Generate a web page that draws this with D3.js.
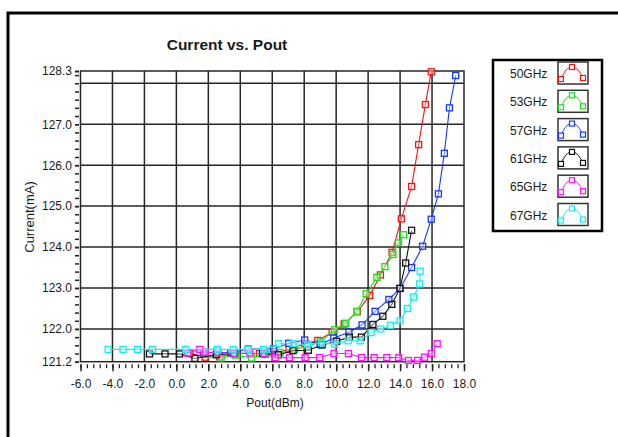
<!DOCTYPE html>
<html>
  <head>
    <meta charset="utf-8" />
    <title>Current vs. Pout</title>
    <script src="https://cdn.jsdelivr.net/npm/d3@7"></script>
    <style>
      body { margin: 0; background: #fff; }
      text { font-family: "Liberation Sans", Arial, sans-serif; fill: #1a1a1a; }
    </style>
  </head>
  <body>
    <div id="chart"></div>
    <script>
      // series names + colours
      var seriesNames = ["50GHz", "53GHz", "57GHz", "61GHz", "65GHz", "67GHz"];
      var seriesColors = ["#ff1010", "#18e018", "#1438ff", "#111111", "#ff10ff", "#10f0f0"];

      // [Pout dBm, Current mA]
      var ghz50 = [[0.85,121.41],[1.8,121.31],[2.7,121.32],[3.6,121.4],[5.2,121.4],[6.15,121.4],[7.05,121.5],[8.05,121.64],[8.85,121.72],[9.75,121.92],[10.5,122.12],[11.33,122.42],[12.1,122.82],[12.77,123.32],[13.5,123.87],[14.08,124.69],[14.72,125.48],[15.16,126.5],[15.58,127.48],[15.95,128.28]];
      var ghz53 = [[1.8,121.38],[2.8,121.29],[3.7,121.36],[4.7,121.29],[5.6,121.38],[6.5,121.42],[7.4,121.5],[8.2,121.58],[9.0,121.68],[9.9,121.98],[10.6,122.14],[11.3,122.43],[11.88,122.86],[12.55,123.26],[13.05,123.52],[13.55,123.82],[13.9,124.1],[14.22,124.3]];
      var ghz57 = [[1.68,121.42],[2.52,121.43],[3.4,121.42],[4.5,121.51],[6.08,121.51],[7.03,121.65],[8.03,121.73],[9.0,121.62],[9.85,121.78],[10.8,121.92],[11.62,122.1],[12.44,122.43],[13.3,122.72],[14.0,122.99],[14.72,123.5],[15.41,124.02],[15.95,124.68],[16.4,125.3],[16.77,126.29],[17.09,127.4],[17.48,128.19]];
      var ghz61 = [[-1.68,121.39],[-0.71,121.39],[0.2,121.39],[1.16,121.28],[2.5,121.37],[3.6,121.4],[5.4,121.4],[6.38,121.37],[7.3,121.47],[8.26,121.48],[9.12,121.61],[10.03,121.7],[10.82,121.8],[11.58,121.8],[12.3,122.11],[12.92,122.31],[13.48,122.6],[13.99,122.99],[14.35,123.61],[14.72,124.41]];
      var ghz65 = [[0.72,121.41],[1.47,121.5],[1.8,121.43],[2.6,121.42],[3.6,121.4],[4.6,121.41],[5.5,121.39],[6.18,121.3],[7.07,121.3],[8.06,121.3],[8.97,121.3],[9.86,121.4],[10.77,121.4],[11.59,121.3],[12.38,121.3],[13.17,121.3],[13.91,121.3],[14.52,121.23],[15.09,121.23],[15.53,121.31],[15.95,121.4],[16.32,121.64]];
      var ghz67 = [[-4.27,121.5],[-3.34,121.5],[-2.42,121.5],[-1.5,121.5],[0.59,121.5],[2.56,121.5],[3.55,121.5],[4.5,121.5],[5.46,121.5],[6.39,121.64],[7.3,121.64],[8.22,121.62],[9.08,121.66],[9.91,121.63],[10.75,121.71],[11.5,121.71],[12.18,121.91],[12.79,122.0],[13.4,122.09],[14.0,122.2],[14.45,122.5],[14.85,122.78],[15.22,123.1],[15.26,123.41]];
      var allSeries = [ghz50, ghz53, ghz57, ghz61, ghz65, ghz67];

      // axis ticks
      var xTickLabels = ["-6.0","-4.0","-2.0","0.0","2.0","4.0","6.0","8.0","10.0","12.0","14.0","16.0","18.0"];
      var xMajor = [-6, -4, -2, 0, 2, 4, 6, 8, 10, 12, 14, 16, 18];
      var yTickLabels = ["121.2","122.0","123.0","124.0","125.0","126.0","127.0","128.3"];
      var yMajor = [121.2, 122, 123, 124, 125, 126, 127, 128.3];
      var yGrid = [122, 123, 124, 125, 126, 127, 128];

      var width = 618, height = 437;
      var plot = { left: 80.5, right: 464, top: 71, bottom: 361.7 };

      var svg = d3
        .select("#chart")
        .append("svg")
        .attr("width", width)
        .attr("height", height);

      // outer frame (runs off the page on right/bottom)
      svg
        .append("rect")
        .attr("x", 8)
        .attr("y", 13)
        .attr("width", 700)
        .attr("height", 500)
        .attr("fill", "none")
        .attr("stroke", "#000")
        .attr("stroke-width", 3);

      var xScale = d3.scaleLinear().domain([-6, 18]).range([plot.left, plot.right]);
      var yScale = d3.scaleLinear().domain([121.2, 128.3]).range([plot.bottom, plot.top]);

      // title
      svg
        .append("text")
        .attr("x", 227)
        .attr("y", 50)
        .attr("text-anchor", "middle")
        .attr("font-size", "15.5px")
        .attr("font-weight", "bold")
        .text("Current vs. Pout");

      // grid
      var grid = svg.append("g").attr("stroke", "#262626").attr("stroke-width", 1.5);
      grid
        .selectAll("line.vx")
        .data(xMajor.slice(1, -1))
        .enter()
        .append("line")
        .attr("x1", (d) => xScale(d))
        .attr("x2", (d) => xScale(d))
        .attr("y1", plot.top)
        .attr("y2", plot.bottom);
      grid
        .selectAll("line.hy")
        .data(yGrid)
        .enter()
        .append("line")
        .attr("x1", plot.left)
        .attr("x2", plot.right)
        .attr("y1", (d) => yScale(d))
        .attr("y2", (d) => yScale(d));
      svg
        .append("rect")
        .attr("x", plot.left)
        .attr("y", plot.top)
        .attr("width", plot.right - plot.left)
        .attr("height", plot.bottom - plot.top)
        .attr("fill", "none")
        .attr("stroke", "#262626")
        .attr("stroke-width", 1.5);

      // X axis: major + minor ticks under the plot
      var xMinor = d3.range(-6, 18.01, 0.4);
      var xAxis = svg
        .append("g")
        .attr("transform", "translate(0," + (plot.bottom + 2.5) + ")")
        .call(
          d3.axisBottom(xScale).tickValues(xMinor).tickSize(4).tickFormat("")
        );
      xAxis.select(".domain").remove();
      xAxis.selectAll(".tick line").attr("stroke", "#222").attr("stroke-width", 1.3);
      var xLab = svg
        .append("g")
        .attr("transform", "translate(0," + (plot.bottom + 2.5) + ")")
        .call(
          d3.axisBottom(xScale)
            .tickValues(xMajor)
            .tickSize(7)
            .tickPadding(8)
            .tickFormat((d, i) => xTickLabels[i])
        );
      xLab.select(".domain").remove();
      xLab.selectAll(".tick line").attr("stroke", "#222").attr("stroke-width", 1.5);
      xLab
        .selectAll(".tick text")
        .attr("font-size", "12px")
        .attr("font-family", "Liberation Sans, Arial, sans-serif")
        .attr("fill", "#1a1a1a");

      // Y axis
      var yMinor = d3.range(121.2, 128.25, 0.2).concat([128.3]);
      var yAxis = svg
        .append("g")
        .attr("transform", "translate(" + (plot.left - 1.5) + ",0)")
        .call(d3.axisLeft(yScale).tickValues(yMinor).tickSize(4).tickFormat(""));
      yAxis.select(".domain").remove();
      yAxis.selectAll(".tick line").attr("stroke", "#222").attr("stroke-width", 1.5);
      var yLab = svg
        .append("g")
        .attr("transform", "translate(" + (plot.left - 1.5) + ",0)")
        .call(
          d3.axisLeft(yScale)
            .tickValues(yMajor)
            .tickSize(4)
            .tickPadding(3)
            .tickFormat((d, i) => yTickLabels[i])
        );
      yLab.select(".domain").remove();
      yLab.selectAll(".tick line").attr("stroke", "#222").attr("stroke-width", 1.5);
      yLab
        .selectAll(".tick text")
        .attr("font-size", "12px")
        .attr("font-family", "Liberation Sans, Arial, sans-serif")
        .attr("fill", "#1a1a1a");

      // axis titles
      svg
        .append("text")
        .attr("x", 275)
        .attr("y", 407)
        .attr("text-anchor", "middle")
        .attr("font-size", "12px")
        .text("Pout(dBm)");
      svg
        .append("text")
        .attr("transform", "translate(34,217) rotate(-90)")
        .attr("text-anchor", "middle")
        .attr("font-size", "13px")
        .text("Current(mA)");

      // series
      var line = d3
        .line()
        .x((d) => xScale(d[0]))
        .y((d) => yScale(d[1]));

      allSeries.forEach(function (data, i) {
        var g = svg.append("g");
        g.append("path")
          .datum(data)
          .attr("fill", "none")
          .attr("stroke", seriesColors[i])
          .attr("stroke-width", 1.1)
          .attr("d", line);
        g.selectAll("rect")
          .data(data)
          .enter()
          .append("rect")
          .attr("x", (d) => xScale(d[0]) - 3)
          .attr("y", (d) => yScale(d[1]) - 3)
          .attr("width", 6)
          .attr("height", 6)
          .attr("fill", "#fff")
          .attr("fill-opacity", 0.4)
          .attr("stroke", seriesColors[i])
          .attr("stroke-width", 1.3);
      });

      // legend
      var legend = svg.append("g");
      legend
        .append("rect")
        .attr("x", 493)
        .attr("y", 60)
        .attr("width", 109)
        .attr("height", 171)
        .attr("fill", "#fff")
        .attr("stroke", "#000")
        .attr("stroke-width", 2.5);

      var swatchLine = d3
        .line()
        .curve(d3.curveCardinal)
        .x((d) => d[0])
        .y((d) => d[1]);
      var swatchPts = [[3, 17], [8, 8], [14, 5], [20, 8], [25, 16]];
      var swatchMarks = [[3, 17], [14, 5], [25, 16]];

      seriesNames.forEach(function (name, i) {
        var cy = 74 + i * 28.3;
        legend
          .append("text")
          .attr("x", 510)
          .attr("y", cy + 4)
          .attr("font-size", "12px")
          .text(name);
        var sw = legend
          .append("g")
          .attr("transform", "translate(558," + (cy - 12) + ")");
        sw.append("rect")
          .attr("width", 30)
          .attr("height", 22)
          .attr("fill", "#fff")
          .attr("stroke", "#333")
          .attr("stroke-width", 1.5);
        sw.append("path")
          .datum(swatchPts)
          .attr("fill", "none")
          .attr("stroke", seriesColors[i])
          .attr("stroke-width", 1)
          .attr("d", swatchLine);
        sw.selectAll("rect.m")
          .data(swatchMarks)
          .enter()
          .append("rect")
          .attr("class", "m")
          .attr("x", (d) => d[0] - 2.5)
          .attr("y", (d) => d[1] - 2.5)
          .attr("width", 5)
          .attr("height", 5)
          .attr("fill", "#fff")
          .attr("stroke", seriesColors[i])
          .attr("stroke-width", 1.2);
      });
    </script>
  </body>
</html>
